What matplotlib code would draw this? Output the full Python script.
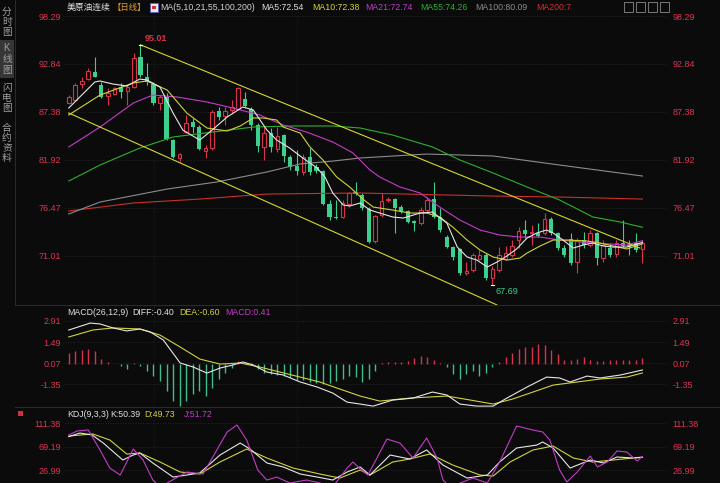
import numpy as np
import matplotlib
matplotlib.use("Agg")
import matplotlib.pyplot as plt
from matplotlib.patches import Rectangle
from matplotlib.lines import Line2D

plt.rcParams['font.family'] = ['Liberation Sans', 'Noto Sans CJK SC']

# daily candles (oldest first)
opens = [88.39, 88.73, 90.56, 91.09, 91.95, 90.44, 89.19, 89.42, 90.21, 89.76,
         90.21, 93.63, 91.35, 90.56, 88.39, 89.08, 84.18, 82.14, 85.09, 86.23,
         85.66, 82.93, 83.27, 87.48, 86.92, 87.60, 87.71, 88.85, 87.71, 85.89,
         83.39, 84.98, 83.16, 84.75, 82.25, 81.23, 80.55, 82.25, 81.11, 80.66,
         76.90, 75.43, 75.43, 76.90, 78.27, 77.93, 76.34, 72.70, 75.65, 77.36,
         77.47, 76.56, 76.11, 74.97, 74.74, 76.22, 77.47, 75.43, 73.15, 72.01,
         71.79, 69.06, 69.40, 70.65, 71.10, 68.49, 69.40, 70.65, 71.10, 72.81,
         73.95, 73.61, 73.61, 73.61, 75.20, 73.61, 71.90, 72.92, 70.31, 72.81,
         72.24, 73.61, 70.76, 71.90, 71.21, 72.47, 72.24, 72.47, 71.79]
highs = [89.30, 90.67, 91.39, 92.37, 93.66, 90.82, 90.10, 90.25, 90.70, 90.44,
         94.08, 95.01, 92.94, 90.78, 89.30, 89.53, 84.30, 82.70, 87.03, 86.69,
         85.90, 83.60, 87.60, 87.94, 87.94, 88.73, 90.21, 89.64, 87.94, 86.12,
         85.66, 85.55, 85.66, 84.87, 82.48, 83.05, 82.59, 83.27, 81.46, 80.77,
         77.36, 77.36, 77.36, 78.27, 79.41, 78.16, 76.56, 75.65, 78.16, 77.70,
         77.59, 76.79, 76.22, 75.08, 76.56, 77.70, 79.41, 76.45, 73.38, 72.13,
         71.90, 70.31, 71.33, 71.67, 71.33, 69.85, 72.01, 72.13, 72.81, 74.29,
         75.08, 74.52, 74.74, 75.88, 75.43, 73.72, 72.24, 73.61, 73.04, 73.72,
         73.95, 73.72, 72.81, 72.47, 72.81, 75.08, 72.81, 73.61, 72.81]
lows = [88.28, 88.62, 90.10, 91.01, 91.30, 88.93, 88.17, 89.30, 88.93, 88.17,
        90.10, 91.40, 90.44, 88.20, 87.60, 84.18, 82.14, 81.68, 84.98, 84.98,
        83.05, 82.14, 83.10, 86.46, 85.89, 87.26, 87.60, 87.94, 85.32, 82.82,
        81.91, 82.82, 82.82, 81.68, 80.77, 80.20, 80.20, 80.20, 80.43, 76.80,
        75.08, 75.20, 75.31, 76.56, 77.93, 76.22, 72.47, 72.47, 75.43, 77.13,
        73.61, 75.88, 74.74, 73.84, 74.52, 75.88, 75.31, 73.72, 71.90, 70.53,
        68.83, 68.83, 69.17, 70.53, 68.26, 67.69, 69.17, 70.53, 70.88, 71.90,
        73.04, 72.24, 73.15, 73.38, 73.38, 71.67, 70.88, 69.97, 69.06, 71.90,
        72.01, 69.97, 70.31, 70.88, 70.88, 72.01, 71.10, 71.44, 70.19]
closes = [89.08, 90.44, 90.93, 92.07, 91.39, 89.11, 89.53, 90.10, 89.64, 90.21,
          93.51, 91.58, 90.78, 88.39, 89.08, 84.30, 82.25, 82.59, 86.12, 85.66,
          83.16, 83.27, 87.37, 86.80, 87.48, 87.94, 90.10, 88.05, 85.89, 83.50,
          84.98, 83.39, 84.64, 82.37, 81.11, 80.66, 82.25, 80.55, 80.66, 76.90,
          75.43, 75.31, 77.02, 78.16, 78.04, 76.45, 72.58, 75.54, 77.25, 77.47,
          76.45, 76.11, 74.86, 74.74, 76.22, 77.36, 75.43, 73.95, 72.01, 70.88,
          69.06, 69.28, 71.10, 71.10, 68.49, 69.51, 71.10, 71.33, 72.13, 73.84,
          73.49, 73.72, 73.27, 75.20, 73.61, 71.90, 71.10, 70.19, 72.81, 72.24,
          73.61, 70.76, 72.24, 71.10, 72.47, 72.13, 72.01, 71.67, 72.47]

# moving averages (candle index, price)
ma5_x = [0, 4, 4.8, 6.8, 8.9, 10.9, 12, 14, 16, 17.5, 20.1, 22, 24.3, 26.7, 28.3, 30.4,
         31.9, 33.9, 35.9, 38.1, 39.3, 40.5, 42.1, 43.1, 44.7, 46.2, 47.7, 49.7, 51.3,
         53.9, 55.8, 58, 59.6, 61.1, 62.6, 64.2, 65.7, 67.2, 68.7, 70.3, 71.8, 73.3,
         74.3, 75.8, 77.4, 78.9, 80.4, 82, 83.5, 85.6, 88]
ma5_y = [87.82, 90.78, 90.90, 90.55, 90.33, 91.12, 91.01, 90.21, 87.26, 85.32, 84.18,
         85.32, 86.80, 87.94, 87.60, 85.32, 84.18, 83.27, 82.14, 81.00, 79.98, 78.16,
         76.79, 76.68, 77.02, 76.22, 75.88, 75.43, 75.31, 75.88, 75.99, 74.74, 72.01,
         70.88, 70.53, 69.74, 70.31, 70.99, 71.79, 73.04, 73.61, 73.95, 73.61, 72.81,
         71.90, 72.24, 72.47, 72.13, 72.01, 72.01, 72.54]
ma10_x = [0, 4.8, 9.9, 12, 15.1, 18.1, 21.2, 24.3, 26.3, 28.3, 29.8, 31.9, 32.9, 35.5,
          37, 39, 41.1, 43.1, 45.1, 46.7, 49.7, 52.3, 54.9, 56.9, 58.9, 61.1, 63.1,
          65.1, 67.2, 69.2, 70.3, 72.3, 74.3, 76.4, 79.5, 81.5, 83.5, 85.6, 88]
ma10_y = [87.03, 89.30, 90.67, 90.90, 89.87, 87.26, 85.55, 85.21, 85.78, 86.69, 86.69,
          86.46, 85.66, 84.98, 83.39, 81.91, 79.98, 78.84, 77.47, 76.56, 76.22, 75.88,
          75.88, 75.43, 74.29, 72.81, 71.67, 70.88, 70.53, 70.76, 71.33, 72.13, 72.81,
          72.81, 72.70, 72.47, 72.13, 71.79, 72.38]
ma21_x = [0, 4.8, 9.9, 12.9, 16.6, 21.2, 25.2, 29.3, 32.9, 36.5, 40.5, 43.6, 46.2, 47.7,
          50.8, 53.9, 56.9, 60, 63.1, 66.1, 69.2, 72.3, 75.3, 80.4, 85.6, 88]
ma21_y = [83.39, 85.66, 88.39, 89.30, 89.08, 88.51, 87.82, 87.03, 85.89, 85.09, 83.96,
          82.71, 80.77, 79.98, 78.84, 78.16, 76.56, 75.08, 73.95, 73.38, 73.15, 73.15,
          72.81, 72.47, 72.24, 72.74]
ma55_x = [0, 4.8, 10.9, 16, 22.1, 28.3, 34.4, 40.5, 44.7, 49.7, 55.8, 60, 65.1, 70.3,
          75.3, 80.4, 84.6, 88]
ma55_y = [79.52, 81.34, 83.27, 84.53, 85.09, 85.66, 85.78, 85.78, 85.55, 84.75, 83.39,
          81.91, 80.43, 78.84, 77.36, 75.43, 74.86, 74.26]
ma100_x = [0, 4.8, 15.1, 22.7, 30.4, 35.5, 40.5, 44.7, 54.9, 65.1, 75.3, 88]
ma100_y = [75.77, 77.13, 78.61, 79.41, 80.55, 81.46, 81.79, 82.14, 82.59, 82.37, 81.34, 80.09]
ma200_x = [0, 9.9, 20.1, 30.4, 44.7, 65.1, 75.3, 88]
ma200_y = [76.11, 77.02, 77.47, 78.04, 78.16, 77.81, 77.70, 77.47]

# channel lines
chan_up_x = [11, 87.6]
chan_up_y = [95.01, 71.90]
chan_lo_x = [0, 65.7]
chan_lo_y = [87.26, 65.42]

# MACD
macd_hist = [0.78, 0.90, 0.95, 1.01, 0.90, 0.36, 0.11, 0.02, -0.15, -0.32,
             0.05, -0.10, -0.45, -0.79, -1.13, -1.80, -2.48, -2.82, -2.48, -2.00,
             -1.80, -2.14, -1.60, -0.99, -0.59, -0.25, 0.18, 0.16, 0.05, -0.32,
             -0.59, -0.65, -0.72, -0.79, -0.90, -1.08, -1.08, -1.24, -1.31, -1.35,
             -1.31, -1.13, -1.01, -0.79, -0.90, -1.24, -1.01, -0.45, 0.04, 0.11,
             0.16, 0.11, 0.22, 0.40, 0.56, 0.49, 0.27, 0.04, -0.23, -0.68,
             -1.01, -0.68, -0.45, -0.79, -0.57, -0.18, 0.16, 0.45, 0.78, 1.01,
             1.17, 1.17, 1.35, 1.30, 0.95, 0.68, 0.27, 0.27, 0.34, 0.49,
             0.27, 0.22, 0.18, 0.27, 0.27, 0.27, 0.27, 0.29, 0.41]
diff_x = [0, 3.3, 4.8, 6.8, 8.9, 10.9, 12.5, 14.5, 17.1, 19.1, 21.2, 23.2, 25.2, 26.7,
          28.3, 30.4, 32.9, 35.5, 38.1, 40.5, 42.7, 44.7, 46.7, 49.7, 52.8, 55.8, 58,
          60, 62.6, 65.1, 67.2, 70.3, 73.3, 75.3, 76.9, 79.5, 81.5, 84.6, 88]
diff_y = [2.30, 2.77, 2.71, 2.44, 2.24, 2.37, 2.17, 1.63, 0.07, -0.20, -0.61, -0.27,
          -0.06, 0.14, -0.06, -0.54, -0.74, -1.21, -1.55, -1.96, -2.57, -2.70, -2.84,
          -2.43, -2.30, -1.89, -2.09, -2.70, -2.84, -2.84, -2.30, -1.55, -0.88, -0.94,
          -1.21, -0.81, -0.94, -0.74, -0.40]
dea_x = [0, 3.7, 6.8, 10.9, 14, 17.1, 20.1, 23.2, 26.3, 29.3, 32.4, 35.5, 38.5, 41.6,
         44.7, 47.7, 52.3, 58, 61.6, 65.1, 68.1, 71.2, 74.3, 78, 81.5, 85.6, 88]
dea_y = [1.83, 2.30, 2.44, 2.37, 1.96, 1.15, 0.34, 0.00, 0.07, -0.20, -0.54, -0.88,
         -1.21, -1.69, -2.16, -2.50, -2.30, -2.16, -2.43, -2.70, -2.36, -1.89, -1.42,
         -1.21, -1.01, -0.88, -0.60]

# KDJ
k_x = [0, 1.7, 3.6, 5.3, 8.3, 9.9, 10.9, 12.9, 16, 18.1, 20.1, 23.2, 26.3, 27.8, 30.4,
       32.9, 35.5, 38.1, 40.5, 42.7, 44.7, 46.2, 49.3, 52.3, 54.9, 57.4, 61.1, 64.2,
       66.1, 68.7, 71.8, 72.7, 74.3, 76.9, 80, 82, 84.1, 86.5, 88]
k_y = [87.3, 93.9, 90.3, 75.8, 45.1, 54.1, 57.8, 39.7, 14.3, 17.9, 21.6, 54.1, 75.8,
       65.0, 39.7, 32.5, 19.8, 14.3, 8.9, 23.4, 32.5, 17.9, 54.1, 46.9, 63.2, 36.0,
       12.5, 17.9, 41.5, 66.8, 72.2, 77.7, 66.8, 30.6, 45.1, 39.7, 50.5, 48.7, 50.39]
d_x = [0, 3.7, 6.3, 8.9, 10.9, 14, 17.1, 20.1, 23.2, 27.3, 30.4, 34.4, 38.5, 41.6, 44.7,
       46.2, 49.7, 52.3, 55.4, 58.9, 63.1, 65.1, 67.7, 71.2, 74.3, 77.4, 80.4, 83.5,
       86.5, 88]
d_y = [88.5, 92.2, 81.3, 55.9, 57.8, 41.5, 23.4, 19.8, 41.5, 65.0, 48.7, 30.6, 19.8,
       12.5, 27.0, 17.9, 41.5, 46.9, 56.0, 36.0, 17.9, 16.1, 41.5, 63.2, 70.4, 48.7,
       41.5, 45.1, 48.7, 49.73]
j_x = [0, 1.3, 3.0, 4.8, 6.3, 7.9, 9.9, 11.4, 12.9, 14, 18.1, 20.6, 22.1, 24.3, 25.8,
       27.3, 29, 30.4, 31.9, 33.9, 36.5, 38.5, 40.5, 42.7, 43.6, 44.7, 45.9, 48.8, 50.8,
       52.8, 54.9, 56.5, 57.4, 58.5, 62, 64.2, 66.1, 68.7, 71.2, 72.7, 73.8, 75.3, 76.4,
       78, 80, 81.1, 82.6, 84.1, 85.6, 87.2, 88]
j_y = [90.3, 97.6, 99.4, 63.2, 30.6, 17.9, 65.0, 45.1, 8.9, -3.8, 23.4, 19.8, 50.5,
       95.8, 108.4, 81.3, 27.0, 8.9, 14.3, 3.5, 8.9, 3.5, -3.8, 30.6, 41.5, 29.0, 17.9,
       83.1, 75.8, 48.7, 84.9, 48.7, 8.9, -3.8, 12.5, 3.5, 41.5, 106.6, 99.4, 95.8, 81.3,
       27.0, 5.3, 23.4, 52.3, 32.5, 41.5, 61.4, 59.6, 43.3, 51.72]

price_ticks = [98.29, 92.84, 87.38, 81.92, 76.47, 71.01]
macd_ticks = [2.91, 1.49, 0.07, -1.35]
kdj_ticks = [111.38, 69.19, 26.99]

BG = '#0b0b0b'
RED = '#d8334a'
GREEN = '#3ccf8e'
TICK = '#dc3450'
WHITE = '#e6e6e6'
YEL = '#d2d23a'
MAG = '#c23cc8'
W, H = 720, 483
L, R = 65, 668

fig = plt.figure(figsize=(7.2, 4.83), dpi=100, facecolor=BG)


def box(top, bottom):
    return [L / W, 1 - bottom / H, (R - L) / W, (bottom - top) / H]


def txt(x, y, s, color, size=6.3, **kw):
    fig.text(x / W, 1 - y / H, s, color=color, fontsize=size, va='center', ha='left', **kw)


ax = fig.add_axes(box(0, 305))
axm = fig.add_axes(box(305, 407))
axk = fig.add_axes(box(407, 483))

for a, ticks, lim in [(ax, price_ticks, (65.42, 100.11)),
                      (axm, macd_ticks, (-2.90, 3.99)),
                      (axk, kdj_ticks, (3.5, 141.0))]:
    a.set_facecolor(BG)
    a.set_xlim(-0.57, 91.92)
    a.set_ylim(*lim)
    a.set_yticks(ticks)
    a.set_yticklabels(['%.2f' % t for t in ticks])
    a.set_xticks([])
    a.tick_params(axis='y', length=0, labelsize=6.5, labelcolor=TICK,
                  labelleft=True, labelright=True, pad=3)
    for s in a.spines.values():
        s.set_visible(False)
    a.grid(axis='y', color='#2c2c2c', linestyle=(0, (1, 2)), linewidth=0.6)
    for v in [13.1, 35.0]:
        a.axvline(v, color='#1e1e1e', linestyle=(0, (1, 2)), linewidth=0.6)

# candles
o, h, l, c = map(np.array, (opens, highs, lows, closes))
idx = np.arange(len(c))
up = c >= o
lo = np.minimum(o, c)
hi = np.maximum(o, c)
size = np.maximum(hi - lo, 0.09)
ax.vlines(idx[~up], l[~up], h[~up], color=GREEN, lw=0.8, zorder=2)
ax.bar(idx[~up], size[~up], bottom=lo[~up], width=0.64, color=GREEN, lw=0, zorder=2)
ax.vlines(idx[up], hi[up], h[up], color=RED, lw=0.8, zorder=2)
ax.vlines(idx[up], l[up], lo[up], color=RED, lw=0.8, zorder=2)
ax.bar(idx[up], size[up], bottom=lo[up], width=0.56, facecolor=BG, edgecolor=RED,
       lw=0.8, zorder=2)

ax.plot(ma200_x, ma200_y, color='#c8302c', lw=0.8, zorder=3)
ax.plot(ma100_x, ma100_y, color='#8c8c8c', lw=0.8, zorder=3)
ax.plot(ma55_x, ma55_y, color='#2fae2f', lw=0.8, zorder=3)
ax.plot(ma21_x, ma21_y, color=MAG, lw=0.8, zorder=3)
ax.plot(ma10_x, ma10_y, color=YEL, lw=0.8, zorder=3)
ax.plot(ma5_x, ma5_y, color=WHITE, lw=0.8, zorder=3)
ax.plot(chan_up_x, chan_up_y, color='#d6d62a', lw=0.8, zorder=3)
ax.plot(chan_lo_x, chan_lo_y, color='#d6d62a', lw=0.8, zorder=3)

ax.plot([10.75, 11.25], [95.01, 95.01], color='white', lw=0.8, zorder=4)
ax.text(11.7, 95.2, '95.01', color=RED, fontsize=6.5, fontweight='bold', va='bottom')
ax.plot([64.75, 65.25], [67.69, 67.69], color='white', lw=0.8, zorder=4)
ax.text(65.4, 66.9, '67.69', color=GREEN, fontsize=6.5, va='center')

# MACD panel
hist = np.array(macd_hist)
axm.vlines(idx[hist >= 0], 0, hist[hist >= 0], color=RED, lw=1.0)
axm.vlines(idx[hist < 0], 0, hist[hist < 0], color='#3cbf8c', lw=1.0)
axm.plot(dea_x, dea_y, color=YEL, lw=0.8)
axm.plot(diff_x, diff_y, color=WHITE, lw=0.8)

# KDJ panel
axk.plot(d_x, d_y, color=YEL, lw=0.8)
axk.plot(k_x, k_y, color=WHITE, lw=0.8)
axk.plot(j_x, j_y, color=MAG, lw=0.8)

# frame pieces
for yy in (305, 407):
    fig.add_artist(Line2D([15 / W, 1], [1 - yy / H] * 2, color='#2a2a2a', lw=0.8))
fig.add_artist(Line2D([14.5 / W] * 2, [1 - 305 / H, 1], color='#2a2a2a', lw=0.8))
fig.add_artist(Rectangle((0, 1 - 78 / H), 14 / W, 38 / H, facecolor='#363636',
                         edgecolor='none'))
side = [('分', 12), ('时', 22), ('图', 32), ('K', 48), ('线', 59), ('图', 70),
        ('闪', 88), ('电', 98), ('图', 108), ('合', 128), ('约', 138), ('资', 148), ('料', 158)]
for ch, yy in side:
    fig.text(7 / W, 1 - yy / H, ch, color='#a0a0a0', fontsize=7, ha='center', va='center')

# headings
txt(67, 7.5, '美原油连续', '#e0e0e0')
txt(112, 7.5, '【日线】', '#e0a030', size=6)
fig.add_artist(Rectangle((150 / W, 1 - 12 / H), 8 / W, 9 / H, facecolor='#e8e8e8',
                         edgecolor='#6060c0', lw=0.6))
fig.add_artist(Rectangle((152 / W, 1 - 9 / H), 4 / W, 3 / H, facecolor='#d03030',
                         edgecolor='none'))
txt(160, 7.5, 'MA(5,10,21,55,100,200)', '#d0d0d0')
txt(261, 7.5, 'MA5:72.54', '#e0e0e0')
txt(312, 7.5, 'MA10:72.38', YEL)
txt(365, 7.5, 'MA21:72.74', MAG)
txt(420, 7.5, 'MA55:74.26', '#2fae2f')
txt(475, 7.5, 'MA100:80.09', '#8c8c8c')
txt(536, 7.5, 'MA200:7', '#d03030')
for xx in (624, 636, 648, 660):
    fig.add_artist(Rectangle((xx / W, 1 - 11.5 / H), 9 / W, 9 / H, facecolor='none',
                             edgecolor='#8a8a8a', lw=0.6))

txt(67, 312.5, 'MACD(26,12,9)', '#e0e0e0')
txt(132, 312.5, 'DIFF:-0.40', '#e0e0e0')
txt(179, 312.5, 'DEA:-0.60', YEL)
txt(225, 312.5, 'MACD:0.41', MAG)

fig.add_artist(Rectangle((18 / W, 1 - 416 / H), 5 / W, 5 / H, facecolor='#d03040',
                         edgecolor='none'))
txt(67, 414.5, 'KDJ(9,3,3)', '#e0e0e0')
txt(110, 414.5, 'K:50.39', '#e0e0e0')
txt(144, 414.5, 'D:49.73', YEL)
txt(184, 414.5, 'J:51.72', MAG)

fig.savefig('out.png', dpi=100, facecolor=BG)
